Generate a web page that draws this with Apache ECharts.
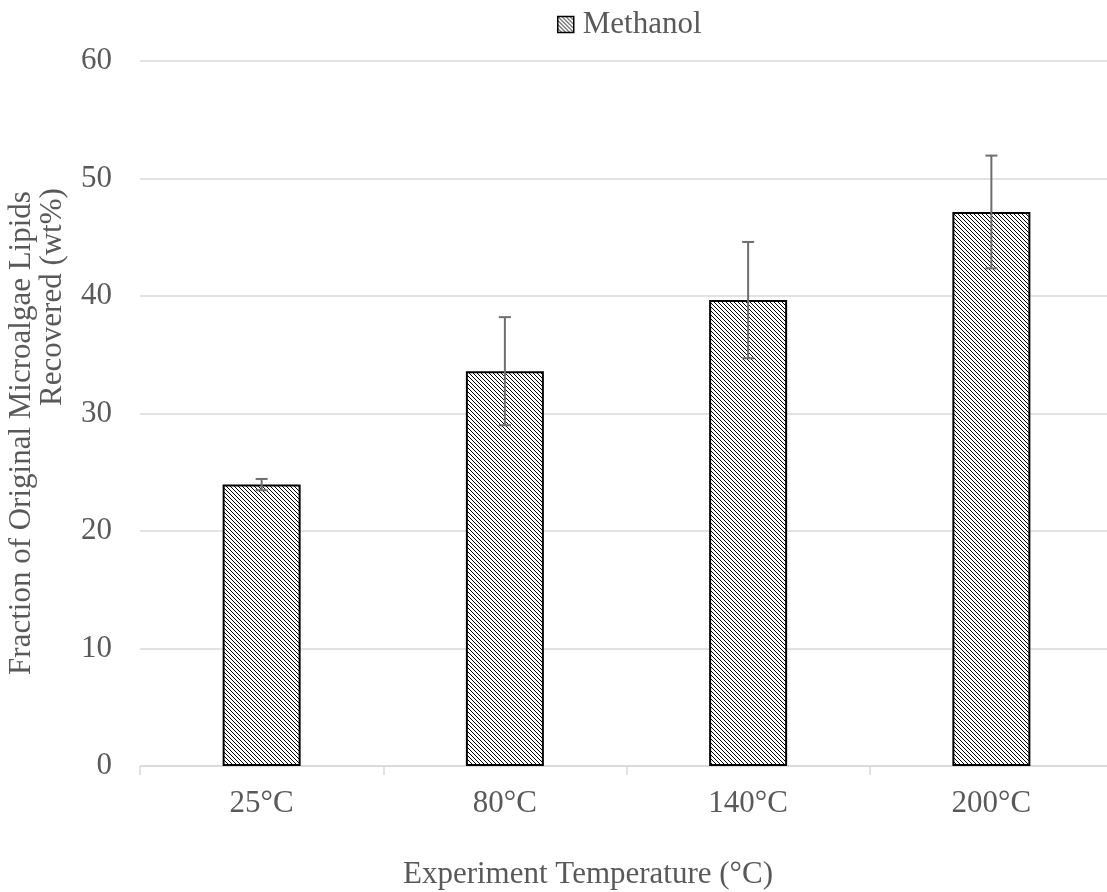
<!DOCTYPE html>
<html><head><meta charset="utf-8">
<script src="https://cdn.jsdelivr.net/npm/echarts@6/dist/echarts.min.js"></script>
<style>html,body{margin:0;padding:0;background:#fff}#c{width:1107px;height:892px}</style>
</head><body><div id="c"></div>
<script>
const categories = ['25°C', '80°C', '140°C', '200°C'];
const methanol = [23.95, 33.6, 39.65, 47.15];
const errors = [0.48, 4.6, 4.95, 4.8];
const yTicks = [0, 10, 20, 30, 40, 50, 60];
const seriesName = 'Methanol';
const xTitle = 'Experiment Temperature (°C)';
const yTitle1 = 'Fraction of Original Microalgae Lipids';
const yTitle2 = 'Recovered (wt%)';

function makePattern() {
  const s = 4;
  const c = document.createElement('canvas');
  c.width = s; c.height = s;
  const g = c.getContext('2d');
  g.fillStyle = '#fff'; g.fillRect(0, 0, s, s);
  g.fillStyle = '#000';
  for (let i = 0; i < s; i++) { g.fillRect(i, i, 1, 1); }
  return c;
}
const pat = { image: makePattern(), repeat: 'repeat' };
const font = '"Liberation Serif", "Times New Roman", serif';
const txt = '#595959';
const chart = echarts.init(document.getElementById('c'));
chart.setOption({
  animation: false,
  textStyle: { fontFamily: font },
  legend: {
    top: 4, left: 552, itemWidth: 16, itemHeight: 16,
    textStyle: { fontSize: 31, color: txt, fontFamily: font, padding: [0, 0, 0, 4] },
    data: [{ name: seriesName, icon: 'rect', itemStyle: { color: pat, borderColor: '#000', borderWidth: 1.5 } }]
  },
  graphic: [
    { type: 'text', x: 588, y: 875, style: { text: xTitle, fill: txt, font: '31px ' + font, textAlign: 'center', textVerticalAlign: 'middle' } },
    { type: 'text', x: 22, y: 433, rotation: Math.PI / 2, style: { text: yTitle1, fill: txt, font: '31px ' + font, textAlign: 'center', textVerticalAlign: 'middle' } },
    { type: 'text', x: 53, y: 297, rotation: Math.PI / 2, style: { text: yTitle2, fill: txt, font: '31px ' + font, textAlign: 'center', textVerticalAlign: 'middle' } }
  ],
  grid: { left: 140, right: -6, top: 61, bottom: 126, outerBoundsMode: 'none', containLabel: false },
  xAxis: {
    type: 'category', data: categories,
    axisLine: { lineStyle: { color: '#d9d9d9', width: 1.5 } },
    axisTick: { show: true, length: 9, lineStyle: { color: '#d9d9d9', width: 1.5 } },
    axisLabel: { fontSize: 31, color: txt, margin: 22, fontFamily: font }
  },
  yAxis: {
    type: 'value', min: yTicks[0], max: yTicks[yTicks.length - 1], interval: 10,
    axisLine: { show: false }, axisTick: { show: false },
    axisLabel: { fontSize: 31, color: txt, margin: 28, fontFamily: font },
    splitLine: { lineStyle: { color: '#d9d9d9', width: 1.5 } }
  },
  series: [
    {
      name: seriesName, type: 'bar', data: methanol, barWidth: 78,
      itemStyle: { color: pat, borderColor: '#000', borderWidth: 2 }
    },
    {
      type: 'custom', name: 'err', silent: true, z: 10,
      data: methanol.map((v, i) => [i, v - errors[i], v + errors[i]]),
      renderItem: function (params, api) {
        const lo = api.coord([api.value(0), api.value(1)]);
        const hi = api.coord([api.value(0), api.value(2)]);
        const x = lo[0], hw = 6;
        const st = { stroke: '#6e6e6e', lineWidth: 2 };
        return { type: 'group', children: [
          { type: 'line', shape: { x1: x, y1: lo[1], x2: x, y2: hi[1] }, style: st },
          { type: 'line', shape: { x1: x - hw, y1: lo[1], x2: x + hw, y2: lo[1] }, style: st },
          { type: 'line', shape: { x1: x - hw, y1: hi[1], x2: x + hw, y2: hi[1] }, style: st }
        ]};
      }
    }
  ]
});
</script></body></html>
